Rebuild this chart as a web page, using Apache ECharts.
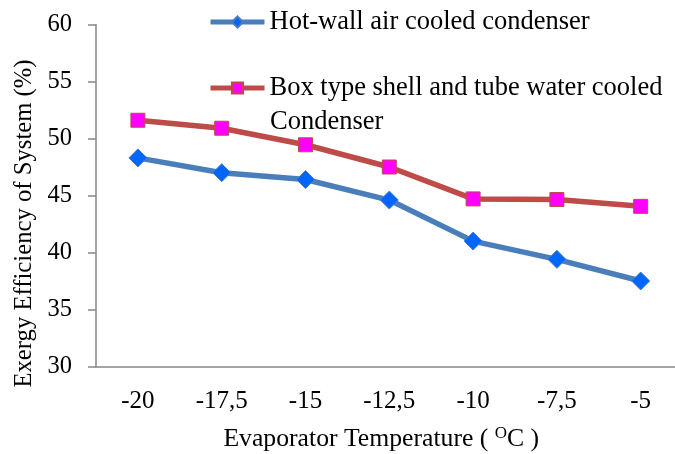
<!DOCTYPE html>
<html>
<head>
<meta charset="utf-8">
<script src="https://cdn.jsdelivr.net/npm/echarts@6/dist/echarts.min.js"></script>
<style>html,body{margin:0;padding:0;background:#fff}#c{width:675px;height:454px}</style>
</head>
<body>
<div id="c"></div>
<script>
var categories = ['-20', '-17,5', '-15', '-12,5', '-10', '-7,5', '-5'];
var hotWall = [48.3, 47.0, 46.4, 44.6, 41.0, 39.4, 37.5];
var boxType = [51.6, 50.9, 49.45, 47.5, 44.7, 44.65, 44.05];
var yTicks = { min: 30, max: 60, interval: 5 };
var seriesNames = ['Hot-wall air cooled condenser', 'Box type shell and tube water cooled Condenser'];

var FONT = 'Liberation Serif';
var chart = echarts.init(document.getElementById('c'), null, { renderer: 'canvas' });
chart.setOption({
  animation: false,
  backgroundColor: '#ffffff',
  textStyle: { fontFamily: FONT, color: '#000' },
  grid: { left: 96, top: 24.5, right: -7.6, bottom: 87.5, containLabel: false, outerBoundsMode: 'none' },
  legend: {
    orient: 'vertical',
    left: 203,
    top: 2,
    itemWidth: 54,
    itemHeight: 14,
    itemGap: 36,
    data: [
      { name: seriesNames[0], lineStyle: { width: 5, color: '#4a7ebb' } },
      { name: seriesNames[1], lineStyle: { width: 5, color: '#be4b48' } }
    ],
    formatter: function (n) { return n === seriesNames[1] ? 'Box type shell and tube water cooled' : n; },
    textStyle: { fontFamily: FONT, fontSize: 26.5, color: '#000', lineHeight: 30 }
  },
  graphic: [{
    type: 'text', left: 270, top: 109,
    style: { text: 'Condenser', fontFamily: FONT, fontSize: 26.5, fill: '#000' }
  }],
  xAxis: {
    type: 'category',
    data: categories,
    boundaryGap: true,
    name: 'Evaporator Temperature ( {sup|O}C )',
    nameLocation: 'middle',
    nameGap: 59,
    nameTextStyle: {
      fontFamily: FONT, fontSize: 25.7, color: '#000', padding: [0, 16, 0, 0],
      rich: { sup: { fontFamily: FONT, fontSize: 17, color: '#000', padding: [0, 0, 10, 0] } }
    },
    axisLine: { lineStyle: { color: '#868686', width: 1.5 } },
    axisTick: { alignWithLabel: true, length: 7, lineStyle: { color: '#868686', width: 1.5 } },
    axisLabel: { fontFamily: FONT, fontSize: 25, color: '#000', margin: 22 },
    splitLine: { show: false }
  },
  yAxis: {
    type: 'value',
    min: yTicks.min, max: yTicks.max, interval: yTicks.interval,
    name: 'Exergy Efficiency of System (%)',
    nameLocation: 'middle',
    nameGap: 49,
    nameTextStyle: { fontFamily: FONT, fontSize: 24.7, color: '#000', padding: [0, 56, 0, 0] },
    axisLine: { show: true, lineStyle: { color: '#868686', width: 1.5 } },
    axisTick: { show: true, length: 8, lineStyle: { color: '#868686', width: 1.5 } },
    axisLabel: { fontFamily: FONT, fontSize: 24.5, color: '#000', margin: 24 },
    splitLine: { show: false }
  },
  series: [{
    name: seriesNames[0],
    type: 'line',
    data: hotWall,
    symbol: 'diamond',
    symbolSize: 18,
    lineStyle: { color: '#4a7ebb', width: 5.5 },
    itemStyle: { color: '#0066ff', borderColor: '#4a7ebb', borderWidth: 1 },
    z: 3
  }, {
    name: seriesNames[1],
    type: 'line',
    data: boxType,
    symbol: 'rect',
    symbolSize: 14,
    lineStyle: { color: '#be4b48', width: 5.5 },
    itemStyle: { color: '#ff00ff', borderColor: '#be4b48', borderWidth: 1 },
    z: 2
  }]
});
</script>
</body>
</html>
